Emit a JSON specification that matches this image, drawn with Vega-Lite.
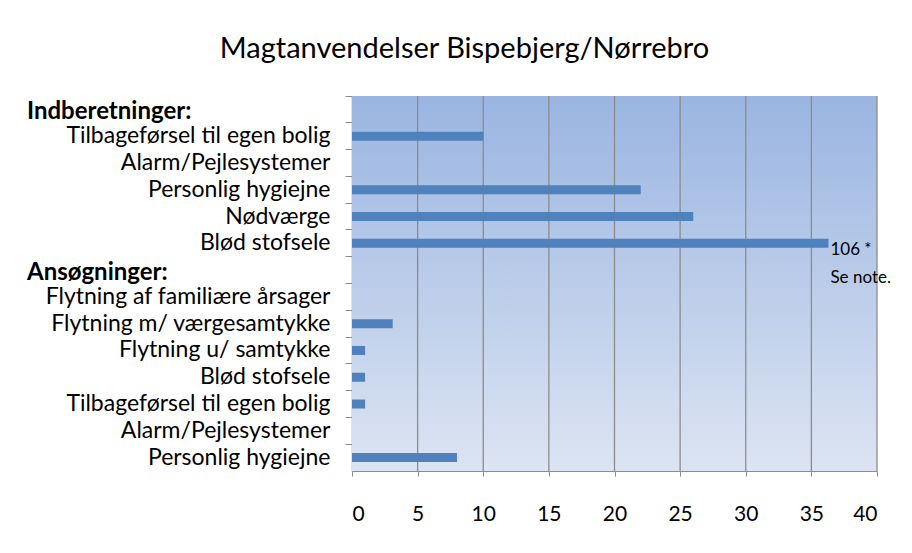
{
  "$schema": "https://vega.github.io/schema/vega-lite/v6.json",
  "width": 525,
  "height": 375,
  "padding": {"left": 27, "top": 35, "right": 10, "bottom": 10},
  "background": "white",
  "title": {
    "text": "Magtanvendelser Bispebjerg/Nørrebro",
    "font": "Lato",
    "fontSize": 29,
    "fontWeight": "normal",
    "color": "#000000",
    "dx": -150,
    "offset": 31
  },
  "config": {
    "view": {"stroke": null}
  },
  "datasets": {
    "bg": [{"lo": 0, "hi": 40}],
    "grid": [{"g": 5}, {"g": 10}, {"g": 15}, {"g": 20}, {"g": 25}, {"g": 30}, {"g": 35}, {"g": 40}],
    "rows": [
      {"key": "H1|Indberetninger:", "value": 0, "note": "", "header": "Indberetninger:"},
      {"key": "01|Tilbageførsel til egen bolig", "value": 10, "note": "", "header": ""},
      {"key": "02|Alarm/Pejlesystemer", "value": 0, "note": "", "header": ""},
      {"key": "03|Personlig hygiejne", "value": 22, "note": "", "header": ""},
      {"key": "04|Nødværge", "value": 26, "note": "", "header": ""},
      {"key": "05|Blød stofsele", "value": 36.3, "note": "106  *\nSe note.", "header": ""},
      {"key": "H2|Ansøgninger:", "value": 0, "note": "", "header": "Ansøgninger:"},
      {"key": "06|Flytning af familiære årsager", "value": 0, "note": "", "header": ""},
      {"key": "07|Flytning m/ værgesamtykke", "value": 3.1, "note": "", "header": ""},
      {"key": "08|Flytning u/ samtykke", "value": 1, "note": "", "header": ""},
      {"key": "09|Blød stofsele", "value": 1, "note": "", "header": ""},
      {"key": "10|Tilbageførsel til egen bolig", "value": 1, "note": "", "header": ""},
      {"key": "11|Alarm/Pejlesystemer", "value": 0, "note": "", "header": ""},
      {"key": "12|Personlig hygiejne", "value": 8, "note": "", "header": ""}
    ]
  },
  "layer": [
    {
      "data": {"name": "bg"},
      "mark": {
        "type": "rect",
        "color": {
          "gradient": "linear",
          "x1": 0, "y1": 0, "x2": 0, "y2": 1,
          "stops": [
            {"offset": 0, "color": "#9AB5E1"},
            {"offset": 1, "color": "#DCE4F2"}
          ]
        }
      },
      "encoding": {
        "x": {
          "field": "lo",
          "type": "quantitative",
          "scale": {"domain": [0, 40], "nice": false},
          "axis": {
            "title": null,
            "values": [0, 5, 10, 15, 20, 25, 30, 35, 40],
            "grid": false,
            "labelFont": "Lato",
            "labelFontSize": 21,
            "labelColor": "#000000",
            "labelPadding": 27,
            "tickSize": 5,
            "tickColor": "#8C8C8C",
            "domainColor": "#8C8C8C"
          }
        },
        "x2": {"field": "hi"}
      }
    },
    {
      "data": {"name": "grid"},
      "mark": {"type": "rule", "color": "#8C8C8C", "strokeWidth": 1.3},
      "encoding": {
        "x": {"field": "g", "type": "quantitative"}
      }
    },
    {
      "data": {"name": "rows"},
      "mark": {"type": "bar", "size": 9, "color": "#4F81BD"},
      "encoding": {
        "x": {"field": "value", "type": "quantitative"},
        "y": {
          "field": "key",
          "type": "nominal",
          "sort": null,
          "scale": {"paddingInner": 0, "paddingOuter": 0},
          "axis": {
            "title": null,
            "labelExpr": "indexof(datum.value, 'H') === 0 ? '' : split(datum.value, '|')[1]",
            "labelFont": "Lato",
            "labelFontSize": 23,
            "labelColor": "#000000",
            "labelLimit": 400,
            "labelPadding": 15,
            "bandPosition": 0,
            "tickSize": 7,
            "tickColor": "#8C8C8C",
            "domainColor": "#8C8C8C",
            "domainWidth": 1.5,
            "grid": false
          }
        }
      }
    },
    {
      "data": {"name": "rows"},
      "mark": {"type": "text", "align": "left", "baseline": "middle", "font": "Lato", "fontSize": 17, "lineBreak": "\n", "lineHeight": 28, "dx": 2, "dy": 7, "color": "#000000"},
      "encoding": {
        "x": {"field": "value", "type": "quantitative"},
        "y": {"field": "key", "type": "nominal", "sort": null},
        "text": {"field": "note"}
      }
    },
    {
      "data": {"name": "rows"},
      "mark": {"type": "text", "align": "left", "baseline": "middle", "font": "Lato", "fontSize": 24, "fontWeight": "bold", "color": "#000000", "dy": 3},
      "encoding": {
        "x": {"datum": -24.76},
        "y": {"field": "key", "type": "nominal", "sort": null},
        "text": {"field": "header"}
      }
    }
  ]
}
